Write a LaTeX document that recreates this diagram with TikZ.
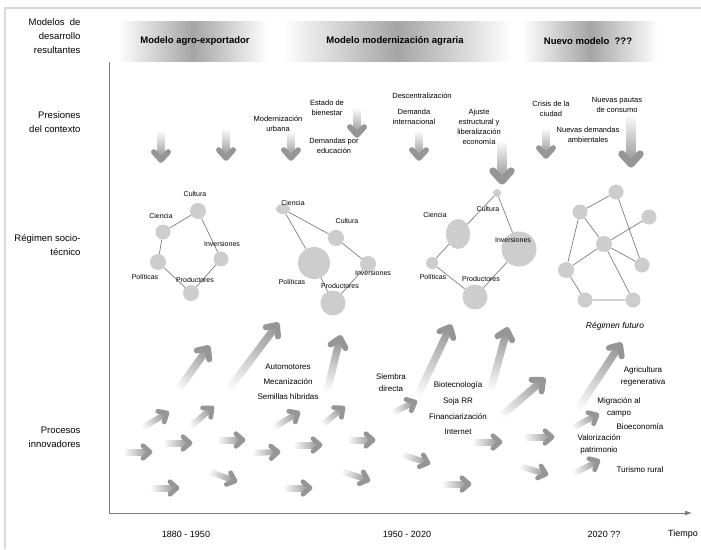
\documentclass[tikz,border=0pt]{standalone}
\usepackage{fontspec}
\setmainfont{Liberation Sans}
\usepackage{tikz}
\usetikzlibrary{arrows.meta}
\usetikzlibrary{shapes.geometric}
\usepackage{xcolor}

\definecolor{flechagris}{RGB}{150,150,150}
\definecolor{nodogris}{RGB}{205,205,205}
\definecolor{lineagris}{RGB}{125,125,125}
\definecolor{franjagris}{RGB}{165,165,165}
\definecolor{marcogris}{RGB}{218,218,218}

\tikzset{
  rotulo/.style={font=\fontsize{9.5}{14}\selectfont, align=right, anchor=east},
  titulo/.style={font=\bfseries\fontsize{9.5}{12}\selectfont},
  anio/.style={font=\fontsize{9}{11}\selectfont},
  presion/.style={font=\fontsize{7.5}{10}\selectfont, align=center, inner sep=0pt},
  actor/.style={font=\fontsize{7}{8}\selectfont, inner sep=0pt},
  proceso/.style={font=\fontsize{8}{12}\selectfont, align=center, inner sep=0pt},
  nodo/.style={circle, fill=nodogris, inner sep=0pt, minimum size=#1},
  nodo/.default=15pt,
  nodoel/.style={ellipse, fill=nodogris, inner sep=0pt},
  enlace/.style={draw=lineagris, line width=0.7pt},
}

% flecha gris con degradado: [grosor]{x cola}{y cola}{x punta}{y punta}
\newcommand{\flecha}[5][6]{%
  \pgfmathsetmacro\fang{atan2(#3-#5,#4-#2)}%
  \pgfmathsetmacro\flen{veclen(#4-#2,#5-#3)}%
  \begin{scope}[transform canvas={shift={(#2,#3)}, rotate=\fang}]
    \shade[left color=white, right color=flechagris] (0,-#1/2) rectangle (\flen-2,#1/2);
    \draw[flechagris, line width={0.8*#1pt}, line cap=round, line join=round]
      (\flen-#1-1,0.95*#1+0.5) -- (\flen,0) -- (\flen-#1-1,-0.95*#1-0.5);
  \end{scope}
}

\begin{document}
\begin{tikzpicture}[x=1pt, y=-1pt]
  \useasboundingbox (0,0) rectangle (701,549);
  \draw[marcogris, line width=1.5pt] (5,549) -- (5,8) -- (701,8);

  \shade[left color=white, right color=white, middle color=franjagris] (118,21) rectangle (268,61);
  \shade[left color=white, right color=white, middle color=franjagris] (283,21) rectangle (512,61);
  \shade[left color=white, right color=white, middle color=franjagris] (522,21) rectangle (658,61);
  \node[titulo] (mod1) at (195,41) {Modelo agro-exportador};
  \node[titulo] (mod2) at (395,41) {Modelo modernización agraria};
  \node[titulo] (mod3) at (588,41) {Nuevo modelo\ \ ???};

  \coordinate (ytop) at (109,62);
  \coordinate (origen) at (109,513);
  \coordinate (xfin) at (692,513);
  \draw[lineagris, line width=0.8pt, -{Latex[length=7pt, width=5pt]}] (ytop) -- (origen) -- (xfin);

  \node[rotulo] (modelos) at (84,36) {Modelos\ \ de\\desarrollo\\resultantes};
  \node[rotulo] (presiones) at (84,122) {Presiones\\del contexto};
  \node[rotulo] (regimen) at (84,245) {Régimen socio-\\técnico};
  \node[rotulo] (procesos) at (84,437) {Procesos\\innovadores};

  \node[anio] (per1) at (186,534) {1880 - 1950};
  \node[anio] (per2) at (407,534) {1950 - 2020};
  \node[anio] (per3) at (604,534) {2020 ??};
  \node[anio] (tiempo) at (683,534) {Tiempo};

  % presiones del contexto
  \foreach \xa/\ya/\yb in {161/130/160, 226/128/158, 291/131/158, 357/107/135,
      419/130/158, 546/128/156}
    \flecha[7]{\xa}{\ya}{\xa}{\yb};
  \flecha[9]{502}{140}{502}{181}
  \flecha[9]{631}{114}{631}{164}
  \node[presion] (urb) at (278,124) {Modernización\\urbana};
  \node[presion] (bien) at (327,108) {Estado de\\bienestar};
  \node[presion] (edu) at (334,146) {Demandas por\\educación};
  \node[presion] (desc) at (422,96) {Descentralización};
  \node[presion] (dint) at (414,117) {Demanda\\internacional};
  \node[presion] (ajus) at (479,127) {Ajuste\\estructural y\\liberalización\\economía};
  \node[presion] (cris) at (551,109) {Crisis de la\\ciudad};
  \node[presion] (paut) at (617,105) {Nuevas pautas\\de consumo};
  \node[presion] (amb) at (588,135) {Nuevas demandas\\ambientales};

  % regimen 1880-1950
  \node[nodo=16pt] (a1cul) at (198,211) {};
  \node[nodo] (a1cie) at (163,232) {};
  \node[nodo=16pt] (a1pol) at (158,262) {};
  \node[nodo=16pt] (a1pro) at (191,293) {};
  \node[nodo] (a1inv) at (221,259) {};
  \draw[enlace] (a1cul) -- (a1cie) -- (a1pol) -- (a1pro) -- (a1inv) -- (a1cul);
  \node[actor] (t1cul) at (195,194) {Cultura};
  \node[actor] (t1cie) at (161,216) {Ciencia};
  \node[actor] (t1pol) at (145,277) {Políticas};
  \node[actor] (t1pro) at (195,280) {Productores};
  \node[actor] (t1inv) at (222,244) {Inversiones};

  % regimen 1950-2020
  \node[nodoel, minimum width=14pt, minimum height=10pt] (b2cie) at (283,209) {};
  \node[nodo=16pt] (b2cul) at (336,238) {};
  \node[nodo=32pt] (b2pol) at (314,263) {};
  \node[nodo=16pt] (b2inv) at (368,264) {};
  \node[nodo=25pt] (b2pro) at (333,303) {};
  \draw[enlace] (b2cie) -- (b2cul) -- (b2inv) -- (b2pro) -- (b2pol) -- (b2cie);
  \node[actor] (t2cie) at (293,203) {Ciencia};
  \node[actor] (t2cul) at (347,221) {Cultura};
  \node[actor] (t2pol) at (292,282) {Políticas};
  \node[actor] (t2inv) at (373,273) {Inversiones};
  \node[actor] (t2pro) at (340,286) {Productores};

  % regimen actual
  \node[nodo=8pt] (c3cul) at (497,193) {};
  \node[nodoel, minimum width=24pt, minimum height=30pt] (c3cie) at (458,234) {};
  \node[nodo=12pt] (c3pol) at (432,263) {};
  \node[nodo=25pt] (c3pro) at (475,297) {};
  \node[nodo=35pt] (c3inv) at (519,249) {};
  \draw[enlace] (c3cul) -- (c3cie) -- (c3pol) -- (c3pro) -- (c3inv) -- (c3cul);
  \node[actor] (t3cul) at (488,209) {Cultura};
  \node[actor] (t3cie) at (435,215) {Ciencia};
  \node[actor] (t3pol) at (433,277) {Políticas};
  \node[actor] (t3pro) at (481,279) {Productores};
  \node[actor] (t3inv) at (513,240) {Inversiones};

  % regimen futuro
  \node[nodo] (f1) at (616,192) {};
  \node[nodo] (f2) at (580,212) {};
  \node[nodo] (f3) at (649,217) {};
  \node[nodo=16pt] (f4) at (604,244) {};
  \node[nodo] (f5) at (642,265) {};
  \node[nodo=16pt] (f6) at (566,270) {};
  \node[nodo] (f7) at (585,300) {};
  \node[nodo] (f8) at (633,300) {};
  \draw[enlace] (f2) -- (f1) -- (f5) -- (f4) -- (f3);
  \draw[enlace] (f2) -- (f4) -- (f6) -- (f2);
  \draw[enlace] (f4) -- (f8) -- (f7) -- (f6);
  \node[proceso, font=\itshape\fontsize{8.5}{10}\selectfont] (futuro) at (615,326) {Régimen futuro};

  % procesos innovadores
  \foreach \xa/\ya/\xb/\yb in {123/452/150/452, 163/443/190/443, 217/440/243/440,
      252/453/278/452, 293/445/320/445, 347/440/373/440, 150/488/177/488,
      208/471/235/481, 283/488/310/488, 341/471/368/480, 401/454/428/463,
      442/484/469/484, 472/442/500/442, 523/437/552/437, 519/466/546/474,
      573/474/598/461, 572/428/597/415, 142/428/167/413, 190/427/212/408,
      273/428/298/413, 322/425/343/408, 392/413/415/402}
    \flecha{\xa}{\ya}{\xb}{\yb};
  \foreach \xa/\ya/\xb/\yb in {178/390/208/348, 228/390/277/325, 327/392/340/338,
      417/397/450/327, 490/392/507/330, 500/417/543/380, 577/410/620/345}
    \flecha[7.5]{\xa}{\ya}{\xb}{\yb};

  \node[proceso] (auto) at (288,367) {Automotores};
  \node[proceso] (meca) at (288,382) {Mecanización};
  \node[proceso] (semi) at (288,397) {Semillas híbridas};
  \node[proceso] (siem) at (391,383) {Siembra\\directa};
  \node[proceso] (biot) at (458,385) {Biotecnología};
  \node[proceso] (soja) at (458,401) {Soja RR};
  \node[proceso] (fina) at (458,417) {Financiarización};
  \node[proceso] (inte) at (458,432) {Internet};
  \node[proceso] (agri) at (643,376) {Agricultura\\regenerativa};
  \node[proceso] (migr) at (619,407) {Migración al\\campo};
  \node[proceso] (bioe) at (640,427) {Bioeconomía};
  \node[proceso] (valo) at (599,444) {Valorización\\patrimonio};
  \node[proceso] (turi) at (640,470) {Turismo rural};
\end{tikzpicture}
\end{document}
